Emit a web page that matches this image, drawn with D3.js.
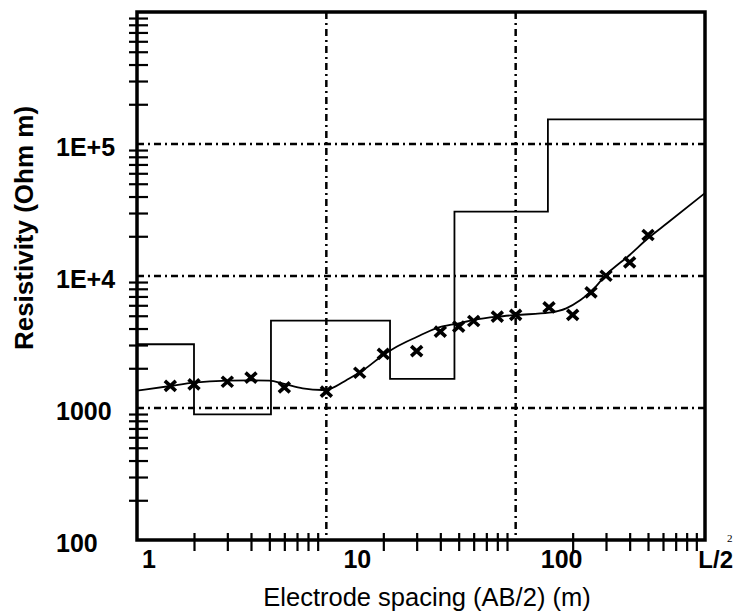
<!DOCTYPE html>
<html>
<head>
<meta charset="utf-8">
<script src="https://cdn.jsdelivr.net/npm/d3@7"></script>
<style>
    body { margin: 0; background: #fff; }
    svg { display: block; }
    .axis-label { font-family: "Liberation Sans", Arial, sans-serif; font-weight: bold; font-size: 25px; fill: #000; }
    .axis-title { font-family: "Liberation Sans", Arial, sans-serif; font-size: 25.5px; fill: #000; }
</style>
</head>
<body>
<div id="chart"></div>
<script>
// measured field data (AB/2 in m, apparent resistivity in Ohm m)
var spacing = [1.5, 2, 3, 4, 6, 10, 15, 20, 30, 40, 50, 60, 80, 100, 150, 200, 250, 300, 400, 500];
var apparentRes = [1470, 1510, 1580, 1700, 1435, 1330, 1850, 2570, 2700, 3790, 4130, 4560, 4920, 5070, 5790, 5070, 7520, 10050, 12700, 20450];

// calculated sounding curve
var modelSpacing = [1, 1.5, 2, 3, 4, 5, 6, 7.5, 9.5, 10.5, 12.8, 15.7, 20, 23.5, 30, 38, 50, 60, 80, 100, 150, 185, 220, 250, 300, 400, 500, 630, 1000];
var modelRes = [1352, 1468, 1555, 1610, 1617, 1610, 1520, 1410, 1369, 1400, 1630, 1940, 2521, 2913, 3450, 4015, 4383, 4642, 4917, 5065, 5272, 5692, 6579, 7604, 10180, 14430, 19300, 25070, 42500];

// layered model: layer boundaries and layer resistivities
var layerDepth = [1, 2.0, 5.1, 21.7, 47.5, 148, 1000];
var layerRes = [3040, 896, 4590, 1660, 30700, 153800, 153800];

// axis ticks
var xTickValues = [1, 10, 100, 1000];
var xTickLabels = ["1", "10", "100", "L/2"];
var yTickValues = [100, 1000, 10000, 100000];
var yTickLabels = ["100", "1000", "1E+4", "1E+5"];
var xGrid = [10, 100];
var yGrid = [1000, 10000, 100000];

var w = 733,
    h = 613,
    margin = { top: 12, bottom: 73, left: 137, right: 28 };

var width = w - margin.left - margin.right,
    height = h - margin.top - margin.bottom;

var svg = d3.select("#chart").append("svg")
    .attr("width", w)
    .attr("height", h);

var chart = svg.append("g")
    .attr("transform", "translate(" + margin.left + "," + margin.top + ")");

var x = d3.scaleLog().domain([1, 1000]).range([0, width]),
    y = d3.scaleLog().domain([100, 1e6]).range([height, 0]);

// minor log ticks 2..9 for every decade
function minorTicks(lo, hi) {
    var out = [];
    for (var p = lo; p < hi; p++) {
        for (var k = 2; k <= 9; k++) out.push(k * Math.pow(10, p));
    }
    return out;
}

// gridlines
chart.selectAll(".hgrid")
    .data(yGrid)
    .enter()
    .append("line")
    .attr("x1", 0)
    .attr("x2", width)
    .attr("y1", function (d) { return y(d); })
    .attr("y2", function (d) { return y(d); })
    .attr("stroke", "#000")
    .attr("stroke-width", 2.5)
    .attr("stroke-dasharray", "7,4,2,4");

chart.selectAll(".vgrid")
    .data(xGrid)
    .enter()
    .append("line")
    .attr("x1", function (d) { return x(d); })
    .attr("x2", function (d) { return x(d); })
    .attr("y1", 0)
    .attr("y2", height)
    .attr("stroke", "#000")
    .attr("stroke-width", 2.5)
    .attr("stroke-dasharray", "7,4,2,4");

// ticks crossing the axes
var xAxis = d3.axisBottom(x).tickValues(minorTicks(0, 3)).tickSize(11).tickFormat("");
var yAxis = d3.axisLeft(y).tickValues(minorTicks(2, 6)).tickSize(10).tickFormat("");

chart.append("g")
    .attr("transform", "translate(0," + height + ")")
    .call(xAxis)
    .call(function (g) {
        g.select(".domain").remove();
        g.selectAll(".tick line").attr("y1", -7).attr("stroke", "#000").attr("stroke-width", 2.2);
    });

chart.append("g")
    .call(yAxis)
    .call(function (g) {
        g.select(".domain").remove();
        g.selectAll(".tick line").attr("x1", 11).attr("x2", -8).attr("stroke", "#000").attr("stroke-width", 2.2);
    });

// layered model
var stepLine = d3.line()
    .x(function (d, i) { return x(layerDepth[i]); })
    .y(function (d) { return y(d); })
    .curve(d3.curveStepAfter);

chart.append("path")
    .datum(layerRes)
    .attr("d", stepLine)
    .attr("fill", "none")
    .attr("stroke", "#000")
    .attr("stroke-width", 1.8);

// calculated curve
var modelLine = d3.line()
    .x(function (d, i) { return x(modelSpacing[i]); })
    .y(function (d) { return y(d); })
    .curve(d3.curveMonotoneX);

chart.append("path")
    .datum(modelRes)
    .attr("d", modelLine)
    .attr("fill", "none")
    .attr("stroke", "#000")
    .attr("stroke-width", 1.8);

// field data as x marks
chart.selectAll(".point")
    .data(apparentRes)
    .enter()
    .append("path")
    .classed("point", true)
    .attr("transform", function (d, i) {
        return "translate(" + x(spacing[i]) + "," + y(d) + ")";
    })
    .attr("d", "M-5.5,-5L5.5,5M-5.5,5L5.5,-5")
    .attr("fill", "none")
    .attr("stroke", "#000")
    .attr("stroke-width", 3.6);

// frame
chart.append("rect")
    .attr("x", 0)
    .attr("y", 0)
    .attr("width", width)
    .attr("height", height)
    .attr("fill", "none")
    .attr("stroke", "#000")
    .attr("stroke-width", 3.5);

// tick labels
var xShift = [12, 31, 46, 10];
chart.selectAll(".x-label")
    .data(xTickValues)
    .enter()
    .append("text")
    .classed("axis-label", true)
    .attr("x", function (d, i) { return i == 3 ? width + 28 : x(d) + xShift[i]; })
    .attr("y", height + 28)
    .attr("text-anchor", function (d, i) { return i == 3 ? "end" : "middle"; })
    .style("font-size", function (d, i) { return i == 3 ? "24px" : null; })
    .text(function (d, i) { return xTickLabels[i]; });

chart.append("text")
    .attr("x", width + 22)
    .attr("y", height + 2)
    .attr("font-family", "Liberation Serif, serif")
    .attr("font-size", 11)
    .text("2");

chart.selectAll(".y-label")
    .data(yTickValues)
    .enter()
    .append("text")
    .classed("axis-label", true)
    .attr("x", -81)
    .attr("y", function (d) { return y(d) + 12; })
    .attr("text-anchor", "start")
    .text(function (d, i) { return yTickLabels[i]; });

// axis titles
svg.append("text")
    .classed("axis-title", true)
    .attr("text-anchor", "middle")
    .attr("transform", "translate(427,606)")
    .text("Electrode spacing (AB/2) (m)");

svg.append("text")
    .classed("axis-label", true)
    .attr("text-anchor", "middle")
    .style("font-size", "26px")
    .attr("transform", "translate(33,228) rotate(-90)")
    .text("Resistivity (Ohm m)");
</script>
</body>
</html>
